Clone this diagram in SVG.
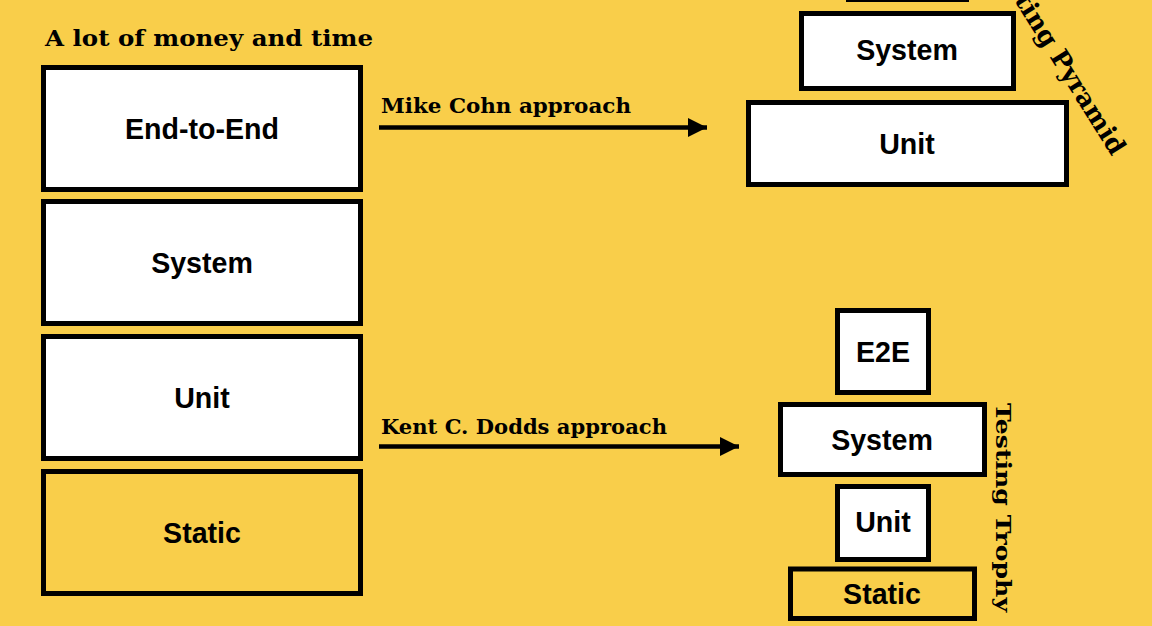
<svg xmlns="http://www.w3.org/2000/svg" width="1152" height="626" viewBox="0 0 1152 626">
<style>
.box{fill:#ffffff;stroke:#000;stroke-width:5}
.boxy{fill:#F9CE4A;stroke:#000;stroke-width:5}
.lbl{font-family:"Liberation Sans",Arial,sans-serif;font-weight:bold;font-size:28.6px;fill:#000;text-anchor:middle;dominant-baseline:central}
.ser{font-family:"DejaVu Serif",serif;font-weight:bold;fill:#000}
.conn{stroke:#000;stroke-width:4.5;fill:none}
</style>
<defs>
<marker id="ah" markerUnits="userSpaceOnUse" markerWidth="20" markerHeight="20" refX="19" refY="9.5" orient="auto">
<path d="M0,0 L19,9.5 L0,19 Z" fill="#000"/>
</marker>
</defs>
<rect width="1152" height="626" fill="#F9CE4A"/>
<text class="ser" x="45" y="46" font-size="22.5" textLength="328" lengthAdjust="spacingAndGlyphs">A lot of money and time</text>
<g id="left-e2e"><rect class="box" x="43.5" y="67.5" width="317" height="122"/><text class="lbl" x="202" y="129">End-to-End</text></g>
<g id="left-system"><rect class="box" x="43.5" y="201.5" width="317" height="122"/><text class="lbl" x="202" y="263">System</text></g>
<g id="left-unit"><rect class="box" x="43.5" y="336.5" width="317" height="122"/><text class="lbl" x="202" y="398">Unit</text></g>
<g id="left-static"><rect class="boxy" x="43.5" y="471.5" width="317" height="122"/><text class="lbl" x="202" y="533">Static</text></g>
<g id="pyr-top"><rect class="box" x="848.5" y="-100" width="118" height="99.5"/></g>
<g id="pyr-system"><rect class="box" x="801.5" y="13.5" width="212" height="75"/><text class="lbl" x="907" y="50">System</text></g>
<g id="pyr-unit"><rect class="box" x="748.5" y="102.5" width="318" height="82"/><text class="lbl" x="907" y="144">Unit</text></g>
<text class="ser" font-size="25.5" text-anchor="end" transform="translate(1112,157) rotate(58)">Testing Pyramid</text>
<g id="tro-e2e"><rect class="box" x="837.5" y="310.5" width="91" height="82"/><text class="lbl" x="883" y="352">E2E</text></g>
<g id="tro-system"><rect class="box" x="780.5" y="404.5" width="204" height="70"/><text class="lbl" x="882" y="440">System</text></g>
<g id="tro-unit"><rect class="box" x="837.5" y="486.5" width="91" height="73"/><text class="lbl" x="883" y="522">Unit</text></g>
<g id="tro-static"><rect class="boxy" x="790.5" y="569" width="184" height="49.5"/><text class="lbl" x="882" y="594">Static</text></g>
<text class="ser" font-size="21" transform="translate(995.5,403) rotate(90)" textLength="209" lengthAdjust="spacingAndGlyphs">Testing Trophy</text>
<g id="connectors">
<line class="conn" x1="379" y1="127.5" x2="707" y2="127.5" marker-end="url(#ah)"/>
<text class="ser" x="381" y="113" font-size="20.5" textLength="250" lengthAdjust="spacingAndGlyphs">Mike Cohn approach</text>
<line class="conn" x1="379" y1="446.5" x2="739" y2="446.5" marker-end="url(#ah)"/>
<text class="ser" x="381" y="434" font-size="20.5" textLength="286" lengthAdjust="spacingAndGlyphs">Kent C. Dodds approach</text>
</g>
</svg>
